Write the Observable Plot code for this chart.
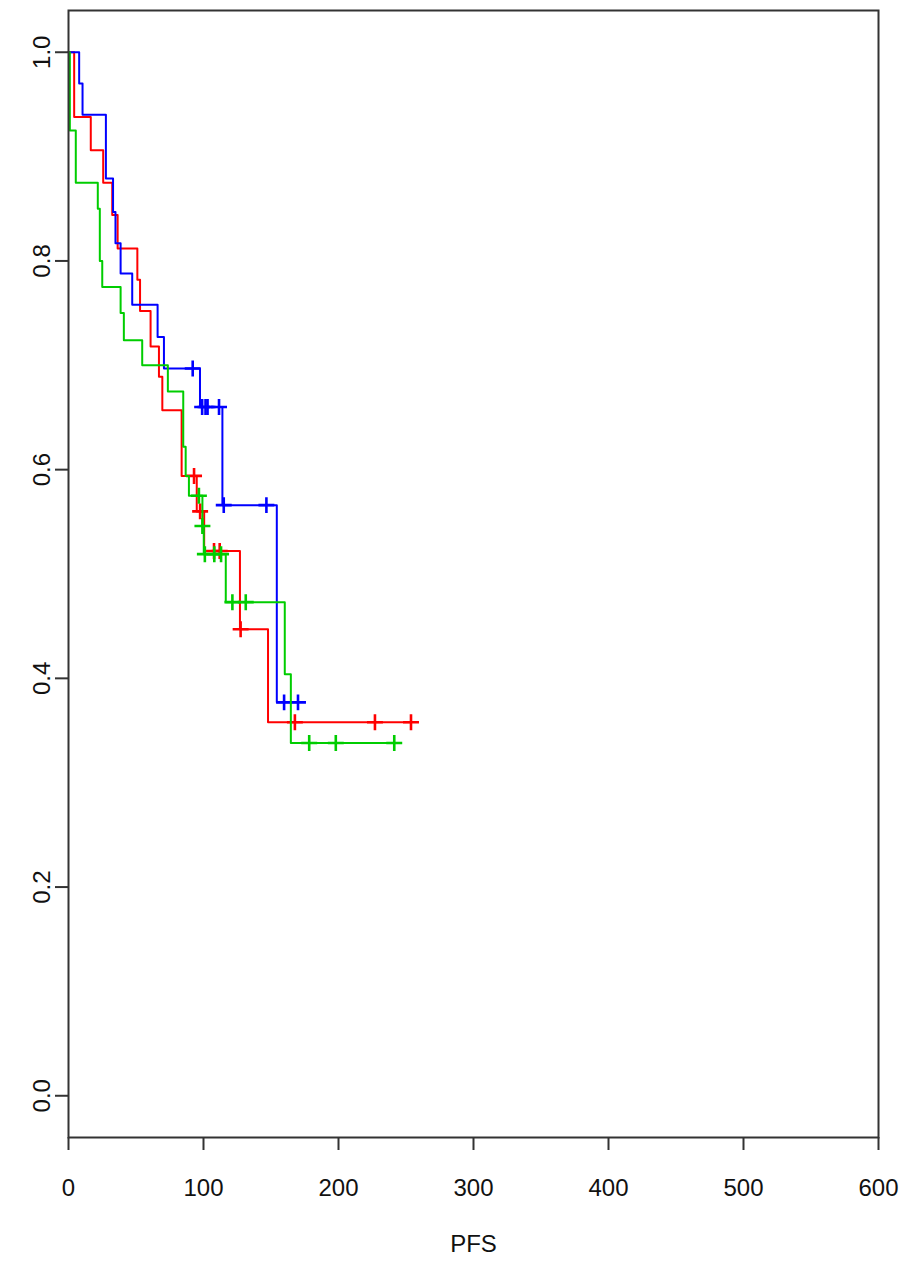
<!DOCTYPE html>
<html>
<head>
<meta charset="utf-8">
<script src="https://cdn.jsdelivr.net/npm/d3@7"></script>
<script src="https://cdn.jsdelivr.net/npm/@observablehq/plot@0.6"></script>
<style>
  html, body { margin: 0; padding: 0; background: #fff; }
  #chart svg { display: block; }
</style>
</head>
<body>
<div id="chart"></div>
<script>
// Step-curve data (time, survival)
const redTime  = [0, 4.2, 16.5, 25.7, 32.4, 36.4, 51.0, 53.0, 60.8, 67.0, 69.5, 83.8, 95.0, 100.5, 127.0, 147.8, 253.7];
const redSurv  = [1.000, 0.938, 0.906, 0.875, 0.844, 0.812, 0.782, 0.752, 0.718, 0.689, 0.657, 0.594, 0.560, 0.522, 0.447, 0.358, 0.358];
const redCensTime = [93, 97.5, 107.8, 112, 127.5, 167.7, 227, 253.7];
const redCensSurv = [0.594, 0.560, 0.522, 0.522, 0.447, 0.358, 0.358, 0.358];

const blueTime = [0, 7.9, 10.4, 27.7, 33.0, 34.8, 38.6, 47.2, 66.0, 70.7, 97.4, 114.0, 154.3, 170];
const blueSurv = [1.000, 0.970, 0.940, 0.879, 0.847, 0.817, 0.788, 0.758, 0.727, 0.697, 0.660, 0.566, 0.377, 0.377];
const blueCensTime = [92, 99, 101.5, 103, 111.5, 115, 146.6, 159.7, 170];
const blueCensSurv = [0.697, 0.660, 0.660, 0.660, 0.660, 0.566, 0.566, 0.377, 0.377];

const greenTime = [0, 1.0, 5.4, 21.7, 23.2, 25.0, 38.6, 41.0, 54.6, 73.6, 85.0, 86.8, 89.2, 99.2, 100.2, 116.5, 160.2, 164.7, 241.3];
const greenSurv = [1.000, 0.925, 0.875, 0.850, 0.800, 0.775, 0.750, 0.724, 0.700, 0.675, 0.622, 0.594, 0.575, 0.546, 0.519, 0.473, 0.404, 0.338, 0.338];
const greenCensTime = [96.6, 99.2, 101, 108, 113, 121.4, 131.3, 178.3, 198, 241.3];
const greenCensSurv = [0.575, 0.546, 0.519, 0.519, 0.519, 0.473, 0.473, 0.338, 0.338, 0.338];

const xTicks = [0, 100, 200, 300, 400, 500, 600];
const yTicks = [0.0, 0.2, 0.4, 0.6, 0.8, 1.0];
const xLabel = "PFS";

const colors = { red: "#ff0000", blue: "#0000ff", green: "#00cd00" };

const toPts = (t, s) => t.map((d, i) => ({ t: d, s: s[i] }));
const groups = [
  { name: "red",   line: toPts(redTime, redSurv),     cens: toPts(redCensTime, redCensSurv) },
  { name: "blue",  line: toPts(blueTime, blueSurv),   cens: toPts(blueCensTime, blueCensSurv) },
  { name: "green", line: toPts(greenTime, greenSurv), cens: toPts(greenCensTime, greenCensSurv) }
];

const font = "'Liberation Sans Narrow', 'Liberation Sans', Arial, Helvetica, sans-serif";
const fmt = d3.format(".1f");
const fs = 24;

const marks = [];
for (const g of groups) {
  marks.push(Plot.line(g.line, { x: "t", y: "s", curve: "step-after", stroke: colors[g.name], strokeWidth: 2 }));
  marks.push(Plot.dot(g.cens, { x: "t", y: "s", symbol: "plus", r: 5.2, stroke: colors[g.name], strokeWidth: 2.6 }));
}

const chart = Plot.plot({
  width: 903,
  height: 1261,
  marginLeft: 68,
  marginRight: 25,
  marginTop: 10,
  marginBottom: 124,
  style: { fontFamily: font, fontSize: fs + "px", color: "#000", background: "#fff" },
  x: { domain: [0, 600] },
  y: { domain: [-0.04, 1.04] },
  marks: [
    ...marks,
    Plot.frame({ stroke: "#333", strokeWidth: 2 }),
    Plot.axisX({ ticks: xTicks, tickSize: 13, tickPadding: 0, tickFormat: () => "", label: null, stroke: "#333", strokeWidth: 2 }),
    Plot.text(xTicks, { x: d => d, text: d => String(d), frameAnchor: "bottom", dy: 51, lineAnchor: "middle", fontSize: fs, fill: "#111" }),
    Plot.axisY({ ticks: yTicks, tickSize: 13, tickFormat: () => "", label: null, stroke: "#333", strokeWidth: 2 }),
    Plot.text(yTicks, { y: d => d, text: d => fmt(d), frameAnchor: "left", dx: -26, rotate: -90, textAnchor: "middle", lineAnchor: "middle", fontSize: fs, fill: "#111" }),
    Plot.text([xLabel], { text: d => d, frameAnchor: "bottom", dy: 107, lineAnchor: "middle", fontSize: fs, fill: "#111" })
  ]
});
document.getElementById("chart").appendChild(chart);
</script>
</body>
</html>
